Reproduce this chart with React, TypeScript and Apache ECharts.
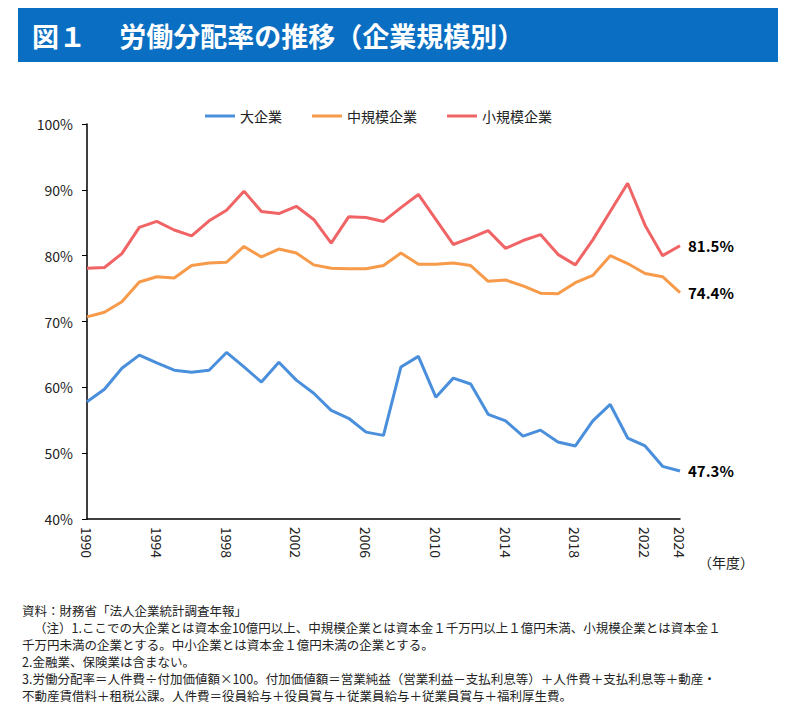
import React, { useEffect, useRef } from "react";
import * as echarts from "echarts";

const years = Array.from({ length: 35 }, (_, i) => String(1990 + i));
const large = [57.8, 59.7, 62.9, 64.9, 63.7, 62.6, 62.3, 62.6, 65.3, 63.1, 60.8, 63.8, 61.1, 59.1, 56.5, 55.3, 53.2, 52.7, 63.1, 64.7, 58.5, 61.4, 60.5, 55.9, 54.9, 52.6, 53.5, 51.7, 51.1, 54.9, 57.4, 52.3, 51.1, 48.0, 47.3];
const medium = [70.7, 71.4, 73.0, 76.0, 76.8, 76.6, 78.5, 78.9, 79.0, 81.4, 79.8, 81.0, 80.4, 78.6, 78.1, 78.0, 78.0, 78.5, 80.4, 78.7, 78.7, 78.9, 78.5, 76.1, 76.3, 75.4, 74.3, 74.2, 75.9, 77.0, 80.0, 78.8, 77.3, 76.8, 74.4];
const small = [78.1, 78.2, 80.3, 84.3, 85.2, 83.9, 83.0, 85.3, 86.9, 89.8, 86.7, 86.4, 87.5, 85.5, 81.9, 85.9, 85.8, 85.2, 87.3, 89.3, 85.5, 81.7, 82.7, 83.8, 81.1, 82.3, 83.2, 80.2, 78.6, 82.4, 86.7, 91.0, 84.6, 80.0, 81.5];
const notes = [
  "資料：財務省「法人企業統計調査年報」",
  "（注）1.ここでの大企業とは資本金10億円以上、中規模企業とは資本金１千万円以上１億円未満、小規模企業とは資本金１",
  "千万円未満の企業とする。中小企業とは資本金１億円未満の企業とする。",
  "2.金融業、保険業は含まない。",
  "3.労働分配率＝人件費÷付加価値額×100。付加価値額＝営業純益（営業利益－支払利息等）＋人件費＋支払利息等＋動産・",
  "不動産賃借料＋租税公課。人件費＝役員給与＋役員賞与＋従業員給与＋従業員賞与＋福利厚生費。",
];

const FONT = "'Noto Sans CJK JP', 'Noto Sans', sans-serif";

function mk(name: string, data: number[], color: string) {
  return {
    name,
    type: "line",
    data,
    symbol: "none",
    lineStyle: { color, width: 3 },
    itemStyle: { color },
    endLabel: {
      show: true,
      distance: 8,
      fontFamily: FONT,
      fontSize: 15,
      fontWeight: "bold",
      color: "#000",
      formatter: (p: any) => Number(p.value).toFixed(1) + "%",
    },
  };
}

export default function App() {
  const ref = useRef<HTMLDivElement | null>(null);
  useEffect(() => {
    if (!ref.current) return;
    const chart = echarts.init(ref.current, undefined, { renderer: "svg" });
    chart.setOption({
      animation: false,
      textStyle: { fontFamily: FONT },
      legend: {
        top: 96,
        left: 192,
        itemWidth: 30,
        itemGap: 30,
        icon: "path://M0,0H30V3H0Z",
        textStyle: { fontSize: 14, color: "#222" },
        data: ["大企業", "中規模企業", "小規模企業"],
      },
      grid: { left: 79, right: 102, top: 116, bottom: 183 },
      xAxis: {
        type: "category",
        data: years,
        boundaryGap: false,
        axisLine: { lineStyle: { color: "#000", width: 1.5 } },
        axisTick: { show: false },
        axisLabel: {
          rotate: -90,
          interval: (i: number) => i % 4 === 0 || i === 34,
          fontSize: 14,
          color: "#222",
          margin: 8,
        },
      },
      yAxis: {
        type: "value",
        min: 40,
        max: 100,
        interval: 10,
        splitLine: { show: false },
        axisLine: { show: true, lineStyle: { color: "#000", width: 1.5 } },
        axisTick: { show: true, inside: false, length: 5, lineStyle: { color: "#000" } },
        axisLabel: { formatter: "{value}%", fontSize: 14, color: "#222", margin: 14 },
      },
      graphic: [
        { type: "rect", shape: { x: 10, y: 0, width: 760, height: 54 }, style: { fill: "#0a6fc2" } },
        {
          type: "text", x: 24, y: 27,
          style: { text: "図１　 労働分配率の推移（企業規模別）", fill: "#fff", font: `bold 27px ${FONT}`, verticalAlign: "middle" },
        },
        { type: "text", x: 690, y: 547, style: { text: "（年度）", fill: "#222", font: `14px ${FONT}` } },
        ...notes.map((t, i) => ({
          type: "text",
          x: i === 1 ? 26 : 14,
          y: 596 + i * 17,
          style: { text: t, fill: "#222", font: `12.5px ${FONT}` },
        })),
      ],
      series: [mk("大企業", large, "#4a8fdc"), mk("中規模企業", medium, "#f79a4a"), mk("小規模企業", small, "#f06466")],
    });
    return () => chart.dispose();
  }, []);
  return <div ref={ref} style={{ width: 774, height: 694 }} />;
}
